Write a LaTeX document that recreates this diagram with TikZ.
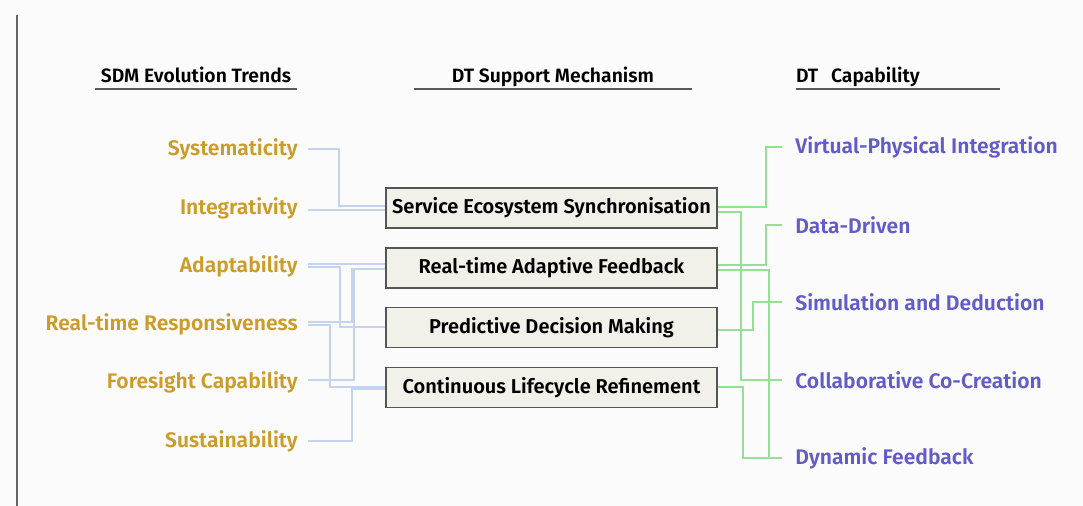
\documentclass[tikz,border=0pt]{standalone}
\usepackage{fontspec}
\setmainfont{Fira Sans}[BoldFont={Fira Sans SemiBold}]
\usetikzlibrary{positioning}

\definecolor{trendgold}{RGB}{204,156,40}
\definecolor{capblue}{RGB}{98,92,200}
\definecolor{linkblue}{RGB}{196,211,238}
\definecolor{linkgreen}{RGB}{146,226,146}
\definecolor{boxfill}{RGB}{241,240,233}
\definecolor{boxedge}{RGB}{85,85,85}

\begin{document}
\begin{tikzpicture}[
    x=0.02cm, y=-0.02cm,
    trend/.style={anchor=east, inner xsep=5.7pt, inner ysep=0pt, text=trendgold, font=\bfseries\fontsize{12}{14}\selectfont},
    capab/.style={anchor=west, inner xsep=7.4pt, inner ysep=0pt, text=capblue, font=\bfseries\fontsize{12}{14}\selectfont},
    mech/.style={rectangle, draw=boxedge, line width=0.7pt, fill=boxfill, minimum width=6.62cm, minimum height=0.8cm, inner sep=0pt, font=\bfseries\fontsize{11.4}{13}\selectfont},
    head/.style={rectangle, inner sep=0pt, anchor=base, font=\bfseries\fontsize{11}{13}\selectfont},
    rule/.style={draw=black!65, line width=0.8pt},
    trendlink/.style={draw=linkblue, line width=1.1pt},
    caplink/.style={draw=linkgreen, line width=1.1pt}
]
\useasboundingbox[fill=black!1.5] (0,0) rectangle (1083,506);
\draw[draw=black!60, line width=1.1pt] (17,15) -- (17,506);

% Column headers
\node[head, minimum width=4.04cm] (hsdm) at (196,83) {SDM Evolution Trends};
\node[head, minimum width=5.54cm] (hmech) at (553,83) {DT Support Mechanism};
\node[head, text width=4.08cm, align=left] (hcap) at (898,83) {DT\ \ Capability};
\draw[rule] ([yshift=-3.4pt]hsdm.base west) -- ([yshift=-3.4pt]hsdm.base east);
\draw[rule] ([yshift=-3.4pt]hmech.base west) -- ([yshift=-3.4pt]hmech.base east);
\draw[rule] ([yshift=-3.4pt]hcap.base west) -- ([yshift=-3.4pt]hcap.base east);

% Left: SDM evolution trends
\node[trend] (sys) at (308,149) {Systematicity};
\node[trend] (integ) at (308,208) {Integrativity};
\node[trend] (adapt) at (308,266) {Adaptability};
\node[trend] (rtresp) at (308,324) {Real-time Responsiveness};
\node[trend] (foresight) at (308,382) {Foresight Capability};
\node[trend] (sustain) at (308,441) {Sustainability};

% Middle: DT support mechanisms
\node[mech] (ssync) at (551.5,208) {Service Ecosystem Synchronisation};
\node[mech] (rtaf) at (551.5,268) {Real-time Adaptive Feedback};
\node[mech] (pdm) at (551.5,327.5) {Predictive Decision Making};
\node[mech] (clr) at (551.5,387.5) {Continuous Lifecycle Refinement};

% Right: DT capabilities
\node[capab] (vpi) at (782,147) {Virtual-Physical Integration};
\node[capab] (ddriven) at (782,225) {Data-Driven};
\node[capab] (simded) at (782,302) {Simulation and Deduction};
\node[capab] (cocreate) at (782,380) {Collaborative Co-Creation};
\node[capab] (dynfb) at (782,458) {Dynamic Feedback};

% Links trends -> mechanisms
\draw[trendlink] (sys.east) -- ++(31,0) |- ([yshift=1.4pt]ssync.west);
\draw[trendlink] ([yshift=-1.4pt]integ.east) -- ([yshift=-1.4pt]integ.east -| ssync.west);
\draw[trendlink] ([yshift=1.1pt]adapt.east) -- ([yshift=1.1pt]adapt.east -| rtaf.west);
\draw[trendlink] ([yshift=-0.6pt]adapt.east) -- ++(32,0) |- ([yshift=0.3pt]pdm.west);
\draw[trendlink] ([yshift=1.1pt]rtresp.east) -- ++(44,0) |- ([yshift=-0.6pt]rtaf.west);
\draw[trendlink] ([yshift=-0.6pt]rtresp.east) -- ++(22,0) |- ([yshift=0.3pt]clr.west);
\draw[trendlink] ([yshift=1.1pt]foresight.east) -- ++(46,0) |- ([yshift=-0.6pt]rtaf.west);
\draw[trendlink] (sustain.east) -- ++(44,0) |- ([yshift=-0.6pt]clr.west);

% Links mechanisms -> capabilities
\draw[caplink] ([yshift=0.6pt]ssync.east) -- ++(48,0) |- (vpi.west);
\draw[caplink] ([yshift=-2.4pt]ssync.east) -- ++(23,0) |- (cocreate.west);
\draw[caplink] ([yshift=1.6pt]rtaf.east) -- ++(48,0) |- (ddriven.west);
\draw[caplink] ([yshift=-1pt]rtaf.east) -- ++(51,0) |- (dynfb.west);
\draw[caplink] ([yshift=-1.5pt]pdm.east) -- ++(35,0) |- (simded.west);
\draw[caplink] ([yshift=0.3pt]clr.east) -- ++(25,0) |- (dynfb.west);

\end{tikzpicture}
\end{document}
